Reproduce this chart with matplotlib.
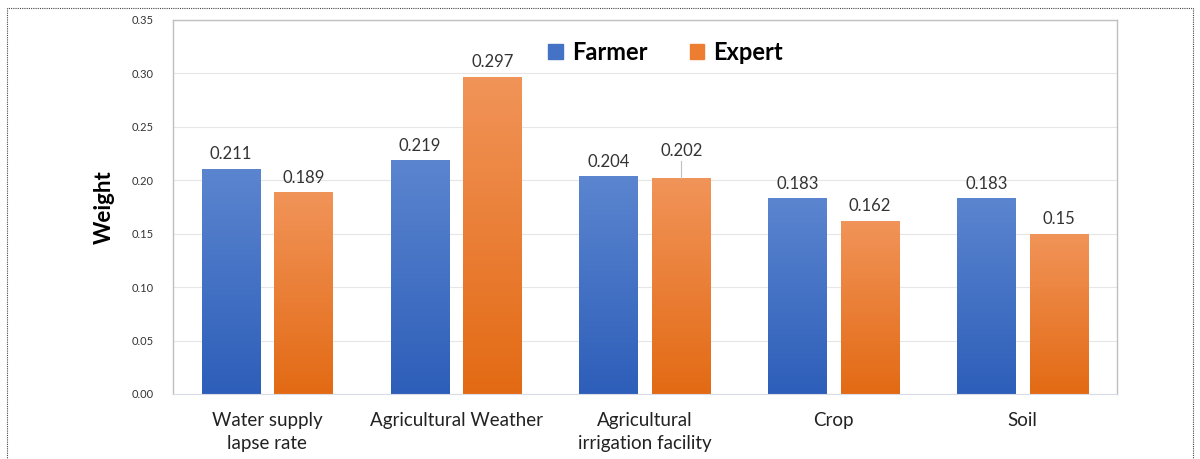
import numpy as np
import matplotlib.pyplot as plt
from matplotlib.colors import LinearSegmentedColormap
from matplotlib.patches import Rectangle

categories = ["Water supply\nlapse rate", "Agricultural Weather",
              "Agricultural\nirrigation facility", "Crop", "Soil"]
farmer = [0.211, 0.219, 0.204, 0.183, 0.183]
expert = [0.189, 0.297, 0.202, 0.162, 0.15]
farmer_labels = ["0.211", "0.219", "0.204", "0.183", "0.183"]
expert_labels = ["0.189", "0.297", "0.202", "0.162", "0.15"]

plt.rcParams['font.family'] = ['Lato', 'DejaVu Sans']

fig = plt.figure(figsize=(12, 4.59), dpi=100)
ax = fig.add_axes([173 / 1200, 1 - 394 / 459, (1117 - 173) / 1200, (394 - 20) / 459])

blue_cmap = LinearSegmentedColormap.from_list("b", ["#2d5eb9", "#5b85cf"])
orange_cmap = LinearSegmentedColormap.from_list("o", ["#e36a14", "#f19459"])

x = np.arange(len(categories))
w = 0.31
gap = 0.075
grad = np.linspace(0, 1, 256).reshape(-1, 1)


def gradient_bars(xs, vals, cmap, label):
    bars = ax.bar(xs, vals, w, color=cmap(0.5), label=label, zorder=2)
    for b in bars:
        b.set_facecolor("none")
        x0, y0 = b.get_x(), b.get_y()
        im = ax.imshow(grad, cmap=cmap, origin="lower", aspect="auto",
                       extent=[x0, x0 + b.get_width(), y0, y0 + b.get_height()],
                       zorder=2)
        im.set_clip_path(b)
    return bars


fb = gradient_bars(x - (w + gap) / 2, farmer, blue_cmap, "Farmer")
eb = gradient_bars(x + (w + gap) / 2, expert, orange_cmap, "Expert")

for b, t in zip(fb, farmer_labels):
    ax.text(b.get_x() + b.get_width() / 2, b.get_height() + 0.006, t,
            ha="center", va="bottom", fontsize=12, color="#333333")
for i, (b, t) in enumerate(zip(eb, expert_labels)):
    off = 0.006
    if i == 2:
        off = 0.018
        cx = b.get_x() + b.get_width() / 2
        ax.plot([cx, cx], [b.get_height(), b.get_height() + 0.016],
                color="#bfbfbf", lw=0.8, zorder=3)
    ax.text(b.get_x() + b.get_width() / 2, b.get_height() + off, t,
            ha="center", va="bottom", fontsize=12, color="#333333")

ax.set_xlim(-0.5, len(categories) - 0.5)
ax.set_ylim(0, 0.35)
ax.set_yticks(np.arange(0, 0.351, 0.05))
ax.set_yticklabels([f"{v:.2f}" for v in np.arange(0, 0.351, 0.05)],
                   fontsize=8, color="#333333")
ax.set_xticks(x)
ax.set_xticklabels(categories, fontsize=13.5, color="#222222", linespacing=1.45)
ax.tick_params(axis="both", length=0)
ax.tick_params(axis="x", pad=13)
ax.tick_params(axis="y", pad=14)
ax.grid(axis="y", color="#e6e6e6", lw=0.8, zorder=0)
ax.set_axisbelow(True)
for s in ["top", "right", "left"]:
    ax.spines[s].set_color("#bfbfbf")
    ax.spines[s].set_linewidth(1.0)
ax.spines["bottom"].set_color("#d9dce6")

ax.set_ylabel("Weight", fontsize=16, fontweight="bold", labelpad=12)

handles = [Rectangle((0, 0), 1, 1, color="#4472c4"),
           Rectangle((0, 0), 1, 1, color="#ed7d31")]
ax.legend(handles, ["Farmer", "Expert"], loc="upper center",
          bbox_to_anchor=(0.522, 1.0), ncol=2, frameon=False,
          prop={"size": 17, "weight": "bold"}, handlelength=0.6,
          handleheight=0.6, columnspacing=1.8, handletextpad=0.4)

# dotted outer frame
fig.patches.append(Rectangle((7 / 1200, -0.01), (1193 - 7) / 1200, 1 - 8 / 459 + 0.01,
                             transform=fig.transFigure, fill=False,
                             ls=(0, (1, 1)), lw=0.8, ec="#444444"))

fig.savefig("out.png", dpi=100)
